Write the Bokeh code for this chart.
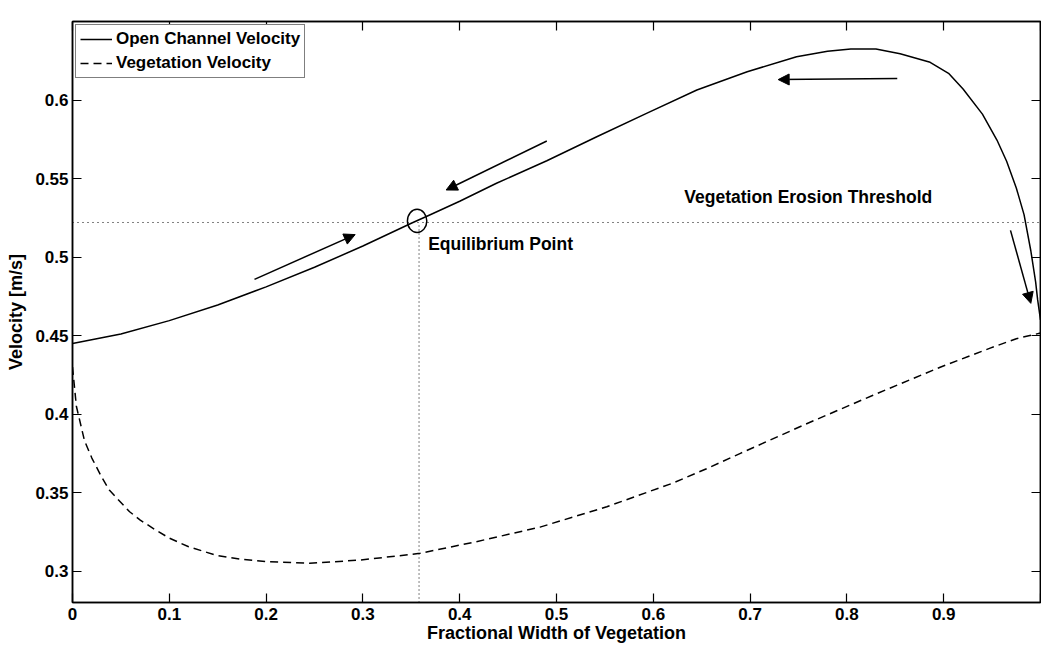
from bokeh.plotting import figure
from bokeh.models import (Range1d, FixedTicker, LinearAxis, CustomJSTickFormatter,
                          Arrow, NormalHead, Legend, LegendItem, Span)
from bokeh.core.properties import value
from bokeh.embed import file_html
from bokeh.resources import INLINE

# ---- data ----
open_x = [0.0, 0.05, 0.10, 0.15, 0.20, 0.25, 0.30, 0.35, 0.369, 0.40, 0.438, 0.49, 0.5416,
          0.593, 0.645, 0.697, 0.748, 0.78, 0.804, 0.83, 0.855, 0.886, 0.905, 0.92, 0.94,
          0.955, 0.965, 0.975, 0.983, 0.99, 0.995, 0.997, 1.0]
open_y = [0.445, 0.451, 0.4595, 0.4695, 0.481, 0.4935, 0.507, 0.5215, 0.5268, 0.5355, 0.547,
          0.5613, 0.5766, 0.5915, 0.6064, 0.618, 0.6276, 0.631, 0.6325, 0.6325, 0.6295,
          0.624, 0.617, 0.607, 0.591, 0.5745, 0.561, 0.544, 0.527, 0.504, 0.484, 0.473, 0.460]

veg_x = [0.0, 0.004, 0.0124, 0.02, 0.03, 0.038, 0.045, 0.059, 0.07, 0.085, 0.10, 0.12,
         0.149, 0.175, 0.20, 0.245, 0.297, 0.359, 0.417, 0.483, 0.552, 0.620, 0.655, 0.690,
         0.759, 0.827, 0.897, 0.948, 0.975, 1.0]
veg_y = [0.430, 0.405, 0.383, 0.372, 0.360, 0.3516, 0.347, 0.3378, 0.3325, 0.3265, 0.321,
         0.3155, 0.310, 0.3075, 0.306, 0.305, 0.307, 0.3113, 0.3187, 0.328, 0.341, 0.356,
         0.3652, 0.375, 0.394, 0.412, 0.430, 0.442, 0.448, 0.4516]

threshold = 0.522
eq_x = 0.358
eq_center = (0.356, 0.523)

x_ticks = [0, 0.1, 0.2, 0.3, 0.4, 0.5, 0.6, 0.7, 0.8, 0.9, 1.0]
y_ticks = [0.3, 0.35, 0.4, 0.45, 0.5, 0.55, 0.6]

# arrows (start x, start y, end x, end y)
arrow_x0 = [0.852, 0.490, 0.188, 0.969]
arrow_y0 = [0.6137, 0.5739, 0.4858, 0.517]
arrow_x1 = [0.729, 0.386, 0.292, 0.990]
arrow_y1 = [0.6130, 0.5427, 0.5143, 0.4705]

labels = ["Vegetation Erosion Threshold", "Equilibrium Point"]
label_x = [0.632, 0.3674]
label_y = [0.538, 0.508]

X_MIN, X_MAX = 0.0, 1.0
Y_MIN, Y_MAX = 0.28, 0.65

FONT = "Liberation Sans"

p = figure(width=1041, height=646, output_backend="svg", toolbar_location=None,
           x_range=Range1d(X_MIN, X_MAX), y_range=Range1d(Y_MIN, Y_MAX),
           min_border_left=72, min_border_right=1, min_border_top=21, min_border_bottom=44)
p.grid.visible = False
p.outline_line_color = "black"
p.outline_line_width = 1.5
p.background_fill_color = "white"
p.border_fill_color = "white"

fmt_x = CustomJSTickFormatter(code="""
    if (tick > 0.95) return "";
    return (Math.round(tick*100)/100).toString();
""")
fmt_y = CustomJSTickFormatter(code="return (Math.round(tick*100)/100).toString();")

def style_axis(ax, show_labels=True):
    ax.axis_line_color = "black"
    ax.axis_line_width = 1.5
    ax.major_tick_in = 9
    ax.major_tick_out = 0
    ax.major_tick_line_width = 1.2
    ax.minor_tick_in = 0
    ax.minor_tick_out = 0
    ax.major_label_text_font = FONT
    ax.major_label_text_font_style = "bold"
    ax.major_label_text_font_size = "17px"
    ax.major_label_text_color = "black"
    ax.axis_label_text_font = FONT
    ax.axis_label_text_font_style = "bold"
    ax.axis_label_text_font_size = "18px"
    ax.axis_label_text_color = "black"
    if not show_labels:
        ax.major_label_text_font_size = "1px"
        ax.major_label_text_color = None
        ax.major_label_standoff = 0
        ax.axis_label = None

xa = p.xaxis[0]
xa.ticker = FixedTicker(ticks=x_ticks)
xa.formatter = fmt_x
xa.axis_label = "Fractional Width of Vegetation"
style_axis(xa)
xa.major_label_standoff = 5
xa.axis_label_standoff = 0

ya = p.yaxis[0]
ya.ticker = FixedTicker(ticks=y_ticks)
ya.formatter = fmt_y
ya.axis_label = "Velocity [m/s]"
style_axis(ya)
ya.major_label_standoff = 4
ya.axis_label_standoff = 6

top = LinearAxis(ticker=FixedTicker(ticks=x_ticks))
style_axis(top, show_labels=False)
p.add_layout(top, "above")
right = LinearAxis(ticker=FixedTicker(ticks=y_ticks))
style_axis(right, show_labels=False)
p.add_layout(right, "right")

# threshold and equilibrium guides
p.add_layout(Span(location=threshold, dimension="width", line_color="black",
                  line_width=1, line_dash="1 4"))
p.segment(x0=[eq_x], y0=[Y_MIN], x1=[eq_x], y1=[threshold], line_color="black",
          line_width=1, line_dash="1 3")

r_open = p.line(open_x, open_y, line_color="black", line_width=1.5)
r_veg = p.line(veg_x, veg_y, line_color="black", line_width=1.5, line_dash="8 5")

p.ellipse(x=[eq_center[0]], y=[eq_center[1]], width=0.0200, height=0.0148,
          fill_color=None, line_color="black", line_width=1.5)

for i in range(len(arrow_x0)):
    p.add_layout(Arrow(end=NormalHead(size=11, fill_color="black", line_color="black",
                                      line_width=1),
                       x_start=arrow_x0[i], y_start=arrow_y0[i],
                       x_end=arrow_x1[i], y_end=arrow_y1[i],
                       line_color="black", line_width=1.5))

p.text(x=label_x, y=label_y, text=labels, text_font=value(FONT),
       text_font_style="bold", text_font_size="17.5px", text_color="black",
       text_baseline="alphabetic", text_align="left")

legend = Legend(items=[LegendItem(label="Open Channel Velocity", renderers=[r_open]),
                       LegendItem(label="Vegetation Velocity", renderers=[r_veg])],
                location="top_left")
legend.margin = 3
legend.padding = 4
legend.spacing = 4
legend.glyph_width = 32
legend.glyph_height = 20
legend.label_height = 20
legend.label_standoff = 4
legend.label_text_font = FONT
legend.label_text_font_style = "bold"
legend.label_text_font_size = "17px"
legend.label_text_color = "black"
legend.border_line_color = "black"
legend.border_line_width = 1.2
legend.background_fill_color = "white"
legend.background_fill_alpha = 1
p.add_layout(legend)

open("out.html", "w").write(file_html(p, INLINE))
